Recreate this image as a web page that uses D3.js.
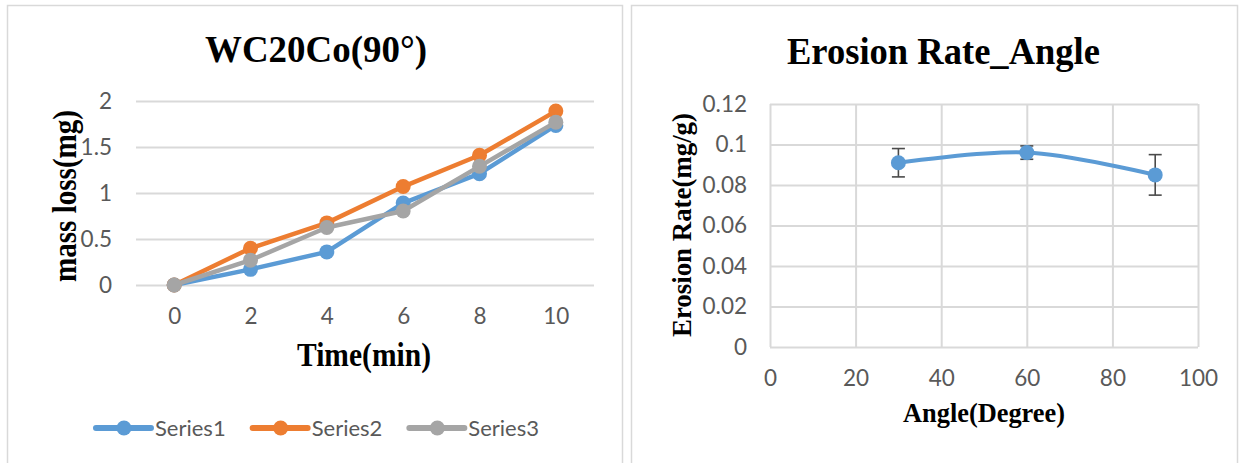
<!DOCTYPE html>
<html>
<head>
<meta charset="utf-8">
<script src="https://cdn.jsdelivr.net/npm/d3@7/dist/d3.min.js"></script>
<style>
  html, body { margin: 0; padding: 0; background: #ffffff; }
  svg { display: block; }
</style>
</head>
<body>
<svg id="chart" width="1241" height="463"></svg>
<script>
// ---- Mass loss over time (WC20Co at 90°) ----
const times = [0, 2, 4, 6, 8, 10];
const seriesNames = ["Series1", "Series2", "Series3"];
const series1 = [0, 0.17, 0.36, 0.89, 1.21, 1.735];
const series2 = [0, 0.40, 0.675, 1.07, 1.41, 1.89];
const series3 = [0, 0.27, 0.625, 0.805, 1.29, 1.77];
const massTicks = [0, 0.5, 1, 1.5, 2];

// ---- Erosion rate vs impact angle ----
const angles = [30, 60, 90];
const erosionRate = [0.091, 0.096, 0.085];
const erosionErr = [0.007, 0.0033, 0.010];
const angleTicks = [0, 20, 40, 60, 80, 100];
const rateTicks = [0, 0.02, 0.04, 0.06, 0.08, 0.1, 0.12];

const colors = ["#5B9BD5", "#ED7D31", "#A5A5A5"];
const gridColor = "#d9d9d9";
const tickColor = "#595959";
const tickFont = "Lato, 'Open Sans', sans-serif";
const titleFont = "'Liberation Serif', 'Times New Roman', serif";

const svg = d3.select("#chart");
svg.append("rect").attr("width", 1241).attr("height", 463).attr("fill", "#fff");

// chart frames
svg.append("rect").attr("x", 7.5).attr("y", 5.5).attr("width", 615).attr("height", 470)
  .attr("fill", "none").attr("stroke", gridColor).attr("stroke-width", 1.5);
svg.append("rect").attr("x", 631.5).attr("y", 5.5).attr("width", 606).attr("height", 470)
  .attr("fill", "none").attr("stroke", gridColor).attr("stroke-width", 1.5);

function styleTicks(g) {
  g.select(".domain").remove();
  g.selectAll("text").attr("fill", tickColor).style("font-family", tickFont).style("font-size", "22.5px");
}

// ================= Left chart =================
{
  const x = d3.scalePoint().domain(times).range([136, 594]).padding(0.5);
  const y = d3.scaleLinear().domain([0, 2]).range([285, 101]);

  // horizontal gridlines
  svg.append("g")
    .attr("transform", "translate(136,0)")
    .call(d3.axisLeft(y).tickValues(massTicks).tickSize(-(594 - 136)).tickFormat(""))
    .call(g => g.select(".domain").remove())
    .call(g => g.selectAll("line").attr("stroke", gridColor).attr("stroke-width", 2));

  svg.append("g")
    .attr("transform", "translate(136,0)")
    .call(d3.axisLeft(y).tickValues(massTicks).tickSize(0).tickPadding(24).tickFormat(d => String(d)))
    .call(styleTicks);

  svg.append("g")
    .attr("transform", "translate(0,285)")
    .call(d3.axisBottom(x).tickSize(0).tickPadding(23).tickFormat(d => String(d)))
    .call(styleTicks);

  const seriesData = [series1, series2, series3];
  const line = d3.line().x((d, i) => x(times[i])).y(d => y(d));
  seriesData.forEach((vals, k) => {
    const g = svg.append("g");
    g.append("path").datum(vals).attr("d", line)
      .attr("fill", "none").attr("stroke", colors[k]).attr("stroke-width", 4.5)
      .attr("stroke-linejoin", "round");
    g.selectAll("circle").data(vals).join("circle")
      .attr("cx", (d, i) => x(times[i])).attr("cy", d => y(d)).attr("r", 7.5)
      .attr("fill", colors[k]);
  });

  svg.append("text").text("WC20Co(90°)")
    .attr("x", 316).attr("y", 62).attr("text-anchor", "middle")
    .attr("textLength", 222).attr("lengthAdjust", "spacingAndGlyphs")
    .style("font-family", titleFont).style("font-weight", "bold").style("font-size", "37px");

  svg.append("text").text("Time(min)")
    .attr("x", 364).attr("y", 366).attr("text-anchor", "middle")
    .attr("textLength", 134).attr("lengthAdjust", "spacingAndGlyphs")
    .style("font-family", titleFont).style("font-weight", "bold").style("font-size", "33px");

  svg.append("text").text("mass loss(mg)")
    .attr("transform", "translate(76,196) rotate(-90)").attr("text-anchor", "middle")
    .attr("textLength", 172).attr("lengthAdjust", "spacingAndGlyphs")
    .style("font-family", titleFont).style("font-weight", "bold").style("font-size", "34px");

  // legend
  const legend = svg.append("g");
  const items = seriesNames.map((name, k) => {
    const it = legend.append("g");
    it.append("line").attr("x1", 0).attr("x2", 55).attr("y1", 0).attr("y2", 0)
      .attr("stroke", colors[k]).attr("stroke-width", 6).attr("stroke-linecap", "round");
    it.append("circle").attr("cx", 28).attr("cy", 0).attr("r", 7.5).attr("fill", colors[k]);
    const t = it.append("text").text(name).attr("x", 59).attr("y", 0).attr("dy", "0.35em")
      .attr("fill", tickColor).style("font-family", tickFont).style("font-size", "22px");
    return { it, w: 59 + t.node().getComputedTextLength() };
  });
  const gap = 27;
  const total = d3.sum(items, d => d.w) + gap * (items.length - 1);
  let cx = 317.5 - total / 2;
  items.forEach(d => { d.it.attr("transform", `translate(${cx},428)`); cx += d.w + gap; });
}

// ================= Right chart =================
{
  const x = d3.scaleLinear().domain([0, 100]).range([770, 1198]);
  const y = d3.scaleLinear().domain([0, 0.12]).range([347, 104]);

  svg.append("g")
    .attr("transform", "translate(770,0)")
    .call(d3.axisLeft(y).tickValues(rateTicks).tickSize(-(1198 - 770)).tickFormat(""))
    .call(g => g.select(".domain").remove())
    .call(g => g.selectAll("line").attr("stroke", gridColor).attr("stroke-width", 2));
  svg.append("g")
    .attr("transform", "translate(0,347)")
    .call(d3.axisBottom(x).tickValues(angleTicks).tickSize(-(347 - 104)).tickFormat(""))
    .call(g => g.select(".domain").remove())
    .call(g => g.selectAll("line").attr("stroke", gridColor).attr("stroke-width", 2));

  svg.append("g")
    .attr("transform", "translate(770,0)")
    .call(d3.axisLeft(y).tickValues(rateTicks).tickSize(0).tickPadding(23).tickFormat(d => String(d)))
    .call(styleTicks);
  svg.append("g")
    .attr("transform", "translate(0,347)")
    .call(d3.axisBottom(x).tickValues(angleTicks).tickSize(0).tickPadding(23).tickFormat(d => String(d)))
    .call(styleTicks);

  const pts = angles.map((a, i) => ({ a, v: erosionRate[i], e: erosionErr[i] }));

  // error bars
  const eb = svg.append("g").attr("stroke", "#4a4a4a").attr("stroke-width", 1.6);
  pts.forEach(p => {
    eb.append("line").attr("x1", x(p.a)).attr("x2", x(p.a)).attr("y1", y(p.v - p.e)).attr("y2", y(p.v + p.e));
    [p.v - p.e, p.v + p.e].forEach(v => {
      eb.append("line").attr("x1", x(p.a) - 6.5).attr("x2", x(p.a) + 6.5).attr("y1", y(v)).attr("y2", y(v));
    });
  });

  const line = d3.line().x(d => x(d.a)).y(d => y(d.v)).curve(d3.curveCardinal.tension(0));
  svg.append("path").datum(pts).attr("d", line)
    .attr("fill", "none").attr("stroke", colors[0]).attr("stroke-width", 4);
  svg.append("g").selectAll("circle").data(pts).join("circle")
    .attr("cx", d => x(d.a)).attr("cy", d => y(d.v)).attr("r", 7.5).attr("fill", colors[0]);

  svg.append("text").text("Erosion Rate_Angle")
    .attr("x", 943.5).attr("y", 64).attr("text-anchor", "middle")
    .attr("textLength", 313).attr("lengthAdjust", "spacingAndGlyphs")
    .style("font-family", titleFont).style("font-weight", "bold").style("font-size", "37px");

  svg.append("text").text("Angle(Degree)")
    .attr("x", 984).attr("y", 422).attr("text-anchor", "middle")
    .attr("textLength", 162).attr("lengthAdjust", "spacingAndGlyphs")
    .style("font-family", titleFont).style("font-weight", "bold").style("font-size", "28px");

  svg.append("text").text("Erosion Rate(mg/g)")
    .attr("transform", "translate(691,225) rotate(-90)").attr("text-anchor", "middle")
    .attr("textLength", 224).attr("lengthAdjust", "spacingAndGlyphs")
    .style("font-family", titleFont).style("font-weight", "bold").style("font-size", "28px");
}
</script>
</body>
</html>
